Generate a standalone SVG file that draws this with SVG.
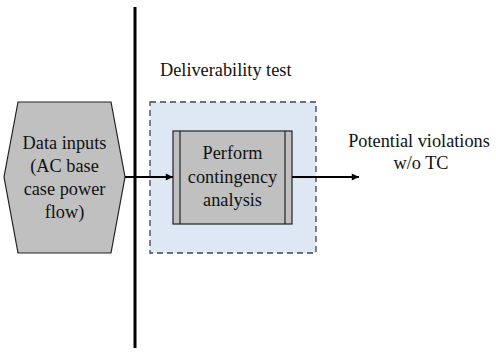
<svg xmlns="http://www.w3.org/2000/svg" width="496" height="352" viewBox="0 0 496 352">
  <style>
    text { font-family: "Liberation Serif", "Times New Roman", serif; font-size: 18.3px; fill: #111; text-anchor: middle; }
    .grey { fill: #c0c0c0; stroke: #222; stroke-width: 1.2; }
    .conn { stroke: #000; stroke-width: 2; fill: none; }
  </style>
  <defs>
    <marker id="arrow" viewBox="0 0 10 10" refX="10" refY="5" markerWidth="4" markerHeight="3.6" orient="auto" markerUnits="strokeWidth">
      <path d="M0,0 L10,5 L0,10 z" fill="#000"/>
    </marker>
  </defs>

  <!-- divider line -->
  <line x1="135" y1="7" x2="135" y2="348" stroke="#000" stroke-width="3"/>

  <!-- deliverability test container -->
  <g id="deliverability-test">
    <rect x="150" y="102" width="166" height="151" fill="#dde8f4" stroke="#444" stroke-width="1.3" stroke-dasharray="6,4"/>
    <text x="160" y="76" style="text-anchor:start">Deliverability test</text>
  </g>

  <!-- data inputs (hexagon) -->
  <g id="data-inputs">
    <polygon class="grey" points="18,102 111,102 125,177 111,253 18,253 4,177"/>
    <text x="64.5" y="149">Data inputs</text>
    <text x="64.5" y="172">(AC base</text>
    <text x="64.5" y="195">case power</text>
    <text x="64.5" y="218">flow)</text>
  </g>

  <!-- contingency analysis (predefined process) -->
  <g id="contingency-analysis">
    <rect class="grey" x="173" y="131" width="119" height="93"/>
    <line x1="180" y1="131" x2="180" y2="224" stroke="#222" stroke-width="1.2"/>
    <line x1="285" y1="131" x2="285" y2="224" stroke="#222" stroke-width="1.2"/>
    <text x="232.5" y="159">Perform</text>
    <text x="232.5" y="183">contingency</text>
    <text x="232.5" y="206">analysis</text>
  </g>

  <!-- output -->
  <g id="potential-violations">
    <text x="419" y="147">Potential violations</text>
    <text x="421" y="169">w/o TC</text>
  </g>

  <!-- connectors -->
  <g id="connectors">
    <line class="conn" x1="125" y1="177" x2="173" y2="177" marker-end="url(#arrow)"/>
    <line class="conn" x1="292" y1="177" x2="359" y2="177" marker-end="url(#arrow)"/>
  </g>
</svg>
